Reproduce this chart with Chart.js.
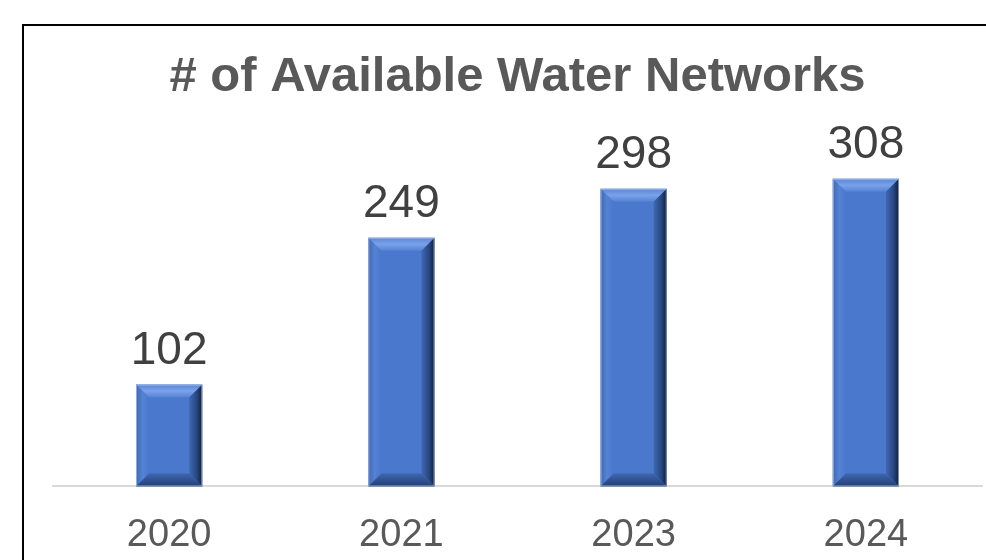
<!DOCTYPE html>
<html>
<head>
<meta charset="utf-8">
<script src="https://cdn.jsdelivr.net/npm/chart.js@4.4.1/dist/chart.umd.min.js"></script>
<style>
  html, body { margin: 0; padding: 0; background: #fff; overflow: hidden; }
  #wrap { position: relative; width: 986px; height: 560px; overflow: hidden; }
  #frame {
    position: absolute; left: 22px; top: 24px; width: 1000px; height: 600px;
    border: 2px solid #000; box-sizing: border-box;
  }
  #networkChart { position: absolute; left: 0; top: 0; }
</style>
</head>
<body>
<div id="wrap">
  <div id="frame"></div>
  <canvas id="networkChart" width="986" height="584"></canvas>
</div>
<script>
const years = ["2020", "2021", "2023", "2024"];
const networks = [102, 249, 298, 308];
const chartTitle = "# of Available Water Networks";

// Value labels above each bar
const valueLabels = {
  id: "valueLabels",
  afterDatasetsDraw(chart) {
    const ctx = chart.ctx;
    const meta = chart.getDatasetMeta(0);
    ctx.save();
    ctx.font = "46px 'Liberation Sans', Arial, sans-serif";
    ctx.fillStyle = "#404040";
    ctx.textAlign = "center";
    ctx.textBaseline = "alphabetic";
    meta.data.forEach((bar, i) => {
      ctx.fillText(networks[i], bar.x, bar.y - 21);
    });
    ctx.restore();
  }
};

// Office-like bevel on the bars
const bevel = {
  id: "bevel",
  afterDatasetDraw(chart) {
    const ctx = chart.ctx;
    const meta = chart.getDatasetMeta(0);
    meta.data.forEach(bar => {
      const l = bar.x - bar.width / 2;
      const r = bar.x + bar.width / 2;
      const t = bar.y;
      const b = bar.base;
      const d = 13;
      ctx.save();

      // top
      let g = ctx.createLinearGradient(0, t, 0, t + d);
      g.addColorStop(0, "#5a86d6");
      g.addColorStop(0.5, "#7aa2ea");
      g.addColorStop(1, "#5582d4");
      ctx.fillStyle = g;
      ctx.beginPath();
      ctx.moveTo(l, t); ctx.lineTo(r, t); ctx.lineTo(r - d, t + d); ctx.lineTo(l + d, t + d);
      ctx.closePath(); ctx.fill();

      // left
      g = ctx.createLinearGradient(l, 0, l + d, 0);
      g.addColorStop(0, "#4169b4");
      g.addColorStop(0.5, "#5482d4");
      g.addColorStop(1, "#4a78cc");
      ctx.fillStyle = g;
      ctx.beginPath();
      ctx.moveTo(l, t); ctx.lineTo(l + d, t + d); ctx.lineTo(l + d, b - d); ctx.lineTo(l, b);
      ctx.closePath(); ctx.fill();

      // right
      g = ctx.createLinearGradient(r - d, 0, r, 0);
      g.addColorStop(0, "#3f68b2");
      g.addColorStop(0.6, "#28457f");
      g.addColorStop(1, "#101d38");
      ctx.fillStyle = g;
      ctx.beginPath();
      ctx.moveTo(r, t); ctx.lineTo(r, b); ctx.lineTo(r - d, b - d); ctx.lineTo(r - d, t + d);
      ctx.closePath(); ctx.fill();

      // bottom
      g = ctx.createLinearGradient(0, b - d, 0, b);
      g.addColorStop(0, "#3f67b0");
      g.addColorStop(1, "#233f75");
      ctx.fillStyle = g;
      ctx.beginPath();
      ctx.moveTo(l, b); ctx.lineTo(r, b); ctx.lineTo(r - d, b - d); ctx.lineTo(l + d, b - d);
      ctx.closePath(); ctx.fill();

      ctx.strokeStyle = "rgba(200,215,240,0.6)";
      ctx.lineWidth = 1;
      ctx.strokeRect(l + 0.5, t + 0.5, r - l - 1, b - t - 1);
      ctx.restore();
    });
  }
};

const ctx = document.getElementById("networkChart").getContext("2d");
new Chart(ctx, {
  type: "bar",
  data: {
    labels: years,
    datasets: [{
      data: networks,
      backgroundColor: "#4a78cd",
      borderWidth: 0,
      barPercentage: 0.57,
      categoryPercentage: 0.5
    }]
  },
  options: {
    responsive: false,
    animation: false,
    layout: { padding: { left: 53, right: 4, top: 30, bottom: 0 } },
    plugins: {
      legend: { display: false },
      tooltip: { enabled: false },
      title: {
        display: true,
        text: chartTitle,
        color: "#595959",
        font: { family: "'Liberation Sans', Arial, sans-serif", size: 49, weight: "bold" },
        padding: { top: 18, bottom: 30 }
      }
    },
    scales: {
      x: {
        grid: { display: false, drawTicks: false },
        border: { display: true, color: "#d9d9d9", width: 2 },
        ticks: {
          color: "#595959",
          padding: 26,
          font: { family: "'Liberation Sans', Arial, sans-serif", size: 38 }
        }
      },
      y: {
        display: false,
        min: 0,
        max: 350
      }
    }
  },
  plugins: [bevel, valueLabels]
});
</script>
</body>
</html>
